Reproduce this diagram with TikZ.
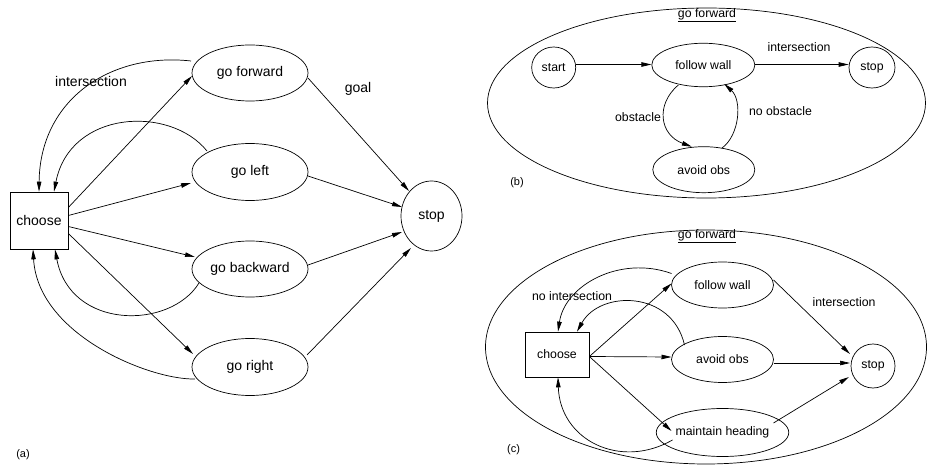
\documentclass[tikz,border=0pt]{standalone}
\usepackage{fontspec}
\setmainfont{Liberation Sans}
\usetikzlibrary{shapes.geometric,arrows.meta,calc}
\begin{document}
\begin{tikzpicture}[x=1pt,y=-1pt,
  line width=0.7pt,
  tip/.style={-{Triangle[length=10pt,width=4.5pt]}},
  ell/.style={draw,ellipse,inner sep=0pt},
  boxnode/.style={draw,rectangle,inner sep=0pt},
  big/.style={font=\fontsize{14}{16}\selectfont},
  small/.style={font=\fontsize{12.3}{14}\selectfont},
  lab/.style={font=\fontsize{11}{13}\selectfont},
]
\useasboundingbox (0,0) rectangle (927,465);

% ---------------- panel (a) ----------------
\node[boxnode,big,minimum width=58pt,minimum height=57pt] (ach) at (39,220.5) {choose};
\node[ell,big,minimum width=116pt,minimum height=56pt] (agf) at (250,73) {go forward};
\node[ell,big,minimum width=116pt,minimum height=57pt] (agl) at (250,172) {go left};
\node[ell,big,minimum width=116pt,minimum height=56pt] (agb) at (250,269) {go backward};
\node[ell,big,minimum width=116pt,minimum height=57pt] (agr) at (250,367) {go right};
\node[ell,big,minimum width=61pt,minimum height=70pt] (ast) at (431.5,216) {stop};

\node[big] (alint) at (91,81) {intersection};
\node[big] (algoal) at (358,89) {goal};
\node[lab] (alab) at (23,455) {(a)};

\draw[tip] ($(ach.east)+(0,-13)$) -- ($(agf.center)+(-58,3)$);
\draw[tip] ($(ach.east)+(0,-5)$) -- ($(agl.center)+(-59,11)$);
\draw[tip] ($(ach.east)+(0,6)$) -- ($(agb.center)+(-55,-12)$);
\draw[tip] ($(ach.east)+(0,13)$) -- ($(agr.center)+(-57,-13)$);

\draw[tip] ($(agf.center)+(58,5)$) -- ($(ast.center)+(-22.5,-25)$);
\draw[tip] ($(agl.center)+(58,4)$) -- ($(ast.center)+(-29.5,-9)$);
\draw[tip] ($(agb.center)+(58,-4)$) -- ($(ast.center)+(-29.5,16)$);
\draw[tip] ($(agr.center)+(57,-12)$) -- ($(ast.center)+(-20.5,32)$);

\draw[tip] ($(agf.center)+(-59,-12)$) .. controls (110,52) and (40,100) .. (ach.north);
\draw[tip] ($(agl.center)+(-43,-21)$) .. controls (170,105) and (70,110) .. ($(ach.north)+(15,0)$);
\draw[tip] ($(agb.center)+(-51,14)$) .. controls (170,330) and (70,330) .. ($(ach.south)+(16,0)$);
\draw[tip] ($(agr.center)+(-55,12)$) .. controls (150,380) and (38,335) .. ($(ach.south)+(-6,0)$);

% ---------------- panel (b) ----------------
\node[ell,minimum width=438pt,minimum height=190pt] (bout) at (706.5,103) {};
\node[small] (btitle) at (707,15) {\underline{go forward}};
\node[ell,small,minimum width=44pt,minimum height=41pt] (bs) at (553.7,67.5) {start};
\node[ell,small,minimum width=103pt,minimum height=43.5pt] (bfw) at (703.3,65) {follow wall};
\node[ell,small,minimum width=46pt,minimum height=41pt] (bst) at (872,67.5) {stop};
\node[ell,small,minimum width=102pt,minimum height=46pt] (bav) at (703.8,169.7) {avoid obs};

\node[small] (blint) at (799,47) {intersection};
\node[small] (blobs) at (638,117) {obstacle};
\node[small] (blnobs) at (780.5,111) {no obstacle};
\node[lab] (blab) at (517,183) {(b)};

\draw[tip] ($(bs.east)+(0,-3)$) -- ($(bfw.west)+(0,-0.5)$);
\draw[tip] ($(bfw.east)+(0,-0.5)$) -- ($(bst.west)+(0,-3)$);
\draw[tip] ($(bfw.center)+(-25,20)$) .. controls (655,105) and (660,135) .. ($(bav.center)+(-12,-23)$);
\draw[tip] ($(bav.center)+(18,-21.5)$) .. controls (740,135) and (742,100) .. ($(bfw.center)+(21,19)$);

% ---------------- panel (c) ----------------
\node[ell,minimum width=441pt,minimum height=234pt] (cout) at (706,347) {};
\node[small] (ctitle) at (707,236) {\underline{go forward}};
\node[boxnode,small,minimum width=64pt,minimum height=45pt] (cch) at (557,354.5) {choose};
\node[ell,small,minimum width=102pt,minimum height=46pt] (cfw) at (722.5,285) {follow wall};
\node[ell,small,minimum width=102pt,minimum height=46pt] (cav) at (722.5,359.5) {avoid obs};
\node[ell,small,minimum width=102pt,minimum height=48pt] (cmh) at (722.5,432.5) {maintain heading};
\node[ell,small,minimum width=44pt,minimum height=44pt] (cst) at (873,366) {stop};

\node[small] (clnint) at (572,296) {no intersection};
\node[small] (clint) at (844,302) {intersection};
\node[lab] (clab) at (513.5,450) {(c)};

\draw[tip] ($(cch.east)+(0,2)$) -- ($(cfw.center)+(-51,-1.5)$);
\draw[tip] ($(cch.east)+(0,2)$) -- ($(cav.center)+(-51,-2.5)$);
\draw[tip] ($(cch.east)+(0,2)$) -- ($(cmh.center)+(-51,-1.5)$);

\draw[tip] ($(cfw.center)+(51,-5)$) -- ($(cst.center)+(-23,-12)$);
\draw[tip] ($(cav.center)+(51,3.5)$) -- ($(cst.center)+(-23,-3)$);
\draw[tip] ($(cmh.center)+(51,-9.5)$) -- ($(cst.center)+(-24,11)$);

\draw[tip] ($(cfw.center)+(-51,-11.5)$) .. controls (620,255) and (565,285) .. ($(cch.north)+(1,0)$);
\draw[tip] ($(cav.center)+(-38,-14.5)$) .. controls (672,290) and (600,290) .. ($(cch.north)+(20,0)$);
\draw[tip] ($(cmh.center)+(-50,7.5)$) .. controls (620,470) and (560,440) .. ($(cch.south)+(1,0)$);
\end{tikzpicture}
\end{document}
